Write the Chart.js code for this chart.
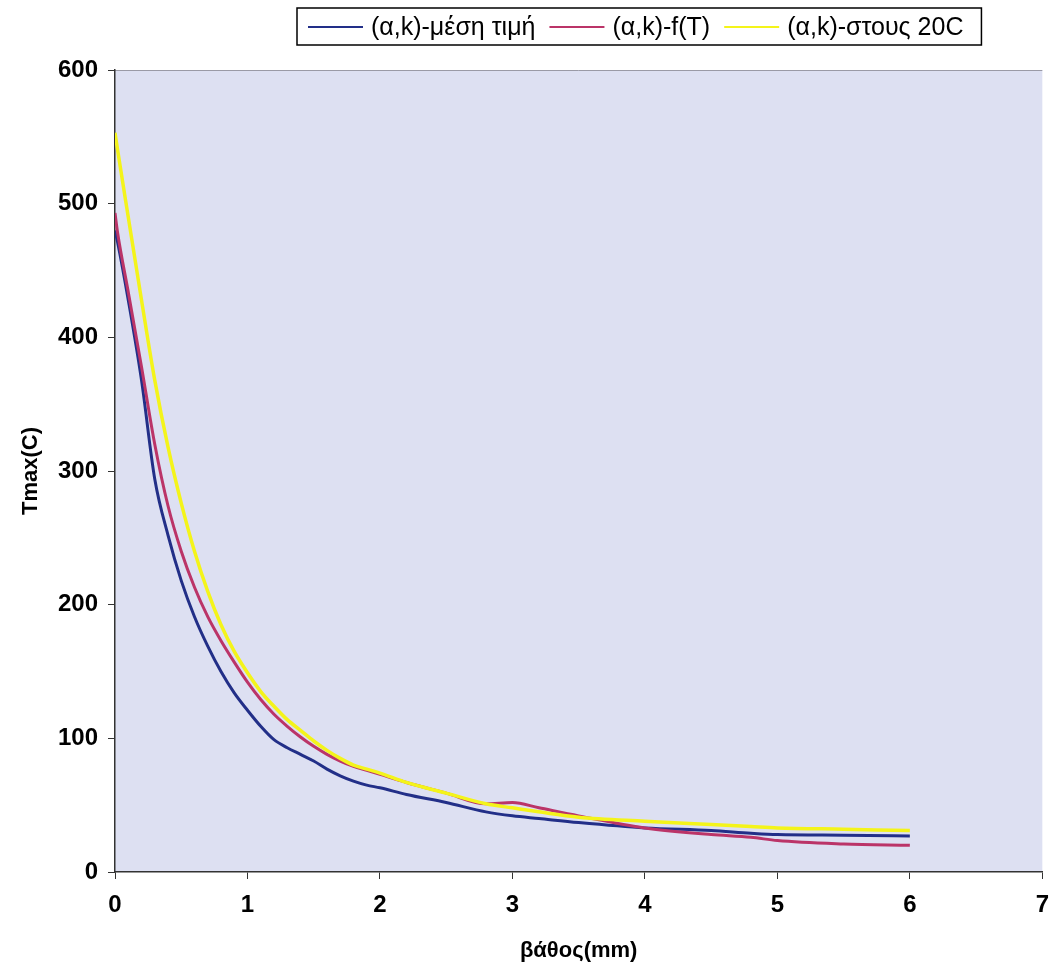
<!DOCTYPE html>
<html lang="el">
<head>
<meta charset="UTF-8">
<title>Tmax - βάθος</title>
<style>
  html, body { margin: 0; padding: 0; background: #fff; }
  #chart { display: block; }
</style>
</head>
<body>
<canvas id="chart" width="1061" height="976"></canvas>

<script src="https://cdn.jsdelivr.net/npm/chart.js"></script>
<script>
// depth in mm
const depth = [0, 0.02, 0.1, 0.2, 0.3, 0.4, 0.5, 0.6, 0.7, 0.8, 0.9, 1.0, 1.1, 1.2, 1.3, 1.4, 1.5,
  1.6, 1.7, 1.8, 1.9, 2.0, 2.2, 2.5, 2.8, 3.0, 3.2, 3.5, 4.0, 4.5, 4.8, 5.0, 5.5, 6.0];

// Tmax (C) for each case
const tMean = [480, 471, 428, 368, 294, 252, 218, 191, 169, 150, 134, 121, 109, 99, 93, 88, 83,
  77, 72, 68, 65, 63, 58, 52, 45, 42, 40, 37, 33, 31, 29, 28, 27.5, 27];
const tFunc = [493, 478, 434, 378, 320, 274, 240, 213, 191, 173, 157, 142, 129, 118, 109, 101, 94,
  88, 83, 79, 76, 73, 67, 59, 51, 52, 48, 42, 33, 28, 26, 23.5, 21, 20];
const t20 = [553, 540, 490, 428, 368, 318, 276, 240, 210, 185, 165, 149, 135, 124, 114, 106, 98,
  91, 85, 80, 77, 74, 67, 59, 51, 48, 45, 41, 38, 35.5, 34, 33, 32, 31];

const seriesNames = ["(α,k)-μέση τιμή", "(α,k)-f(T)", "(α,k)-στους 20C"];
const seriesColors = ["#222f88", "#bb3468", "#f4f41a"];

const FONT = '"Liberation Sans", Arial, sans-serif';
Chart.defaults.font.family = FONT;
Chart.defaults.color = "#000";

function toPoints(values) {
  return depth.map((d, i) => ({ x: d, y: values[i] }));
}

// light lavender plot area like the original
const plotBackground = {
  id: "plotBackground",
  beforeDraw(chart) {
    const { ctx, chartArea: { left, top, right, bottom } } = chart;
    ctx.save();
    ctx.fillStyle = "#dde0f2";
    ctx.fillRect(left, top, right - left, bottom - top);
    ctx.strokeStyle = "#9a9aa6";
    ctx.lineWidth = 1;
    ctx.beginPath();
    ctx.moveTo(left, top + 0.5);
    ctx.lineTo(right, top + 0.5);
    ctx.stroke();
    ctx.restore();
  },
};

// framed legend above the plot
const boxLegend = {
  id: "boxLegend",
  afterDraw(chart) {
    const { ctx } = chart;
    const y = 27;
    const sample = 55;
    let x = 308;
    ctx.save();
    ctx.font = "25px " + FONT;
    ctx.textBaseline = "middle";
    chart.data.datasets.forEach((ds) => {
      ctx.strokeStyle = ds.borderColor;
      ctx.lineWidth = 2;
      ctx.beginPath();
      ctx.moveTo(x, y);
      ctx.lineTo(x + sample, y);
      ctx.stroke();
      x += sample + 8;
      ctx.fillStyle = "#000";
      ctx.fillText(ds.label, x, y + 1);
      x += ctx.measureText(ds.label).width + 14;
    });
    ctx.strokeStyle = "#000";
    ctx.lineWidth = 1.5;
    ctx.strokeRect(297, 8, x - 297 + 4, 37);
    ctx.restore();
  },
};

const datasets = [tMean, tFunc, t20].map((vals, i) => ({
  label: seriesNames[i],
  data: toPoints(vals),
  borderColor: seriesColors[i],
  backgroundColor: seriesColors[i],
  borderWidth: i === 2 ? 3.5 : 3,
  pointRadius: 0,
  cubicInterpolationMode: "monotone",
  order: 2 - i,
}));

new Chart(document.getElementById("chart"), {
  type: "line",
  data: { datasets },
  options: {
    responsive: false,
    animation: false,
    layout: { padding: { top: 70, right: 13, bottom: 0, left: 0 } },
    plugins: { legend: { display: false }, tooltip: { enabled: false } },
    scales: {
      x: {
        type: "linear",
        min: 0,
        max: 7,
        ticks: { stepSize: 1, padding: 12, font: { size: 24, weight: "bold" } },
        grid: { drawOnChartArea: false, tickLength: 7, color: "#333" },
        border: { color: "#333", width: 1.5 },
        title: {
          display: true,
          text: "βάθος(mm)",
          font: { size: 22, weight: "bold" },
          padding: { top: 0, bottom: 12 },
        },
        afterFit(scale) { scale.height = 104; },
      },
      y: {
        min: 0,
        max: 600,
        ticks: { stepSize: 100, padding: 10, font: { size: 24, weight: "bold" } },
        grid: { drawOnChartArea: false, tickLength: 7, color: "#333" },
        border: { color: "#333", width: 1.5 },
        title: {
          display: true,
          text: "Tmax(C)",
          font: { size: 22, weight: "bold" },
          padding: { top: 18, bottom: 0 },
        },
        afterFit(scale) { scale.width = 115; },
      },
    },
  },
  plugins: [plotBackground, boxLegend],
});
</script>
</body>
</html>
